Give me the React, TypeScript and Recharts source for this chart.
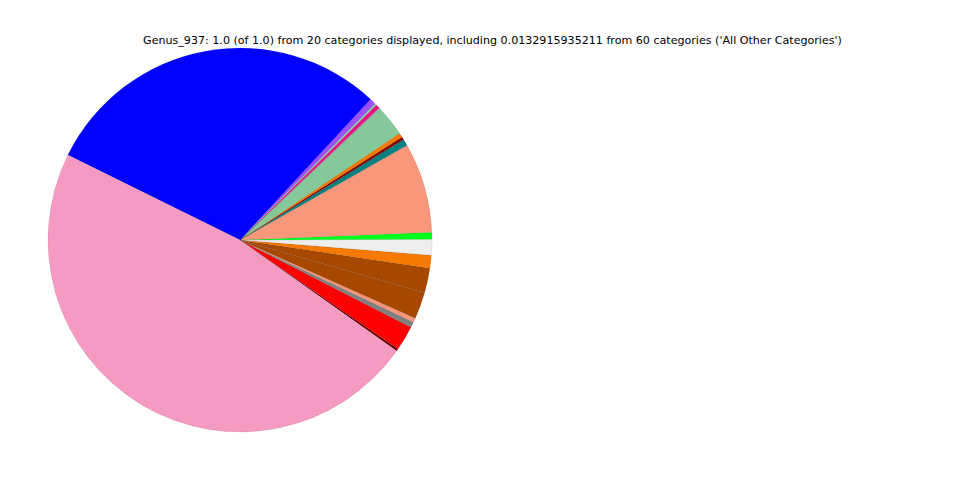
import { Cell, Pie, PieChart } from "recharts";

const TITLE =
  "Genus_937: 1.0 (of 1.0) from 20 categories displayed, including 0.0132915935211 from 60 categories ('All Other Categories')";

// slices in counter-clockwise order, starting just after the big pink wedge
const categories = [
  "Genus_a01",
  "Genus_a02",
  "Genus_a03",
  "Genus_a04",
  "Genus_a05",
  "Genus_a06",
  "Genus_a07",
  "All Other Categories",
  "Genus_a09",
  "Genus_a10",
  "Genus_a11",
  "Genus_a12",
  "Genus_a13",
  "Genus_a14",
  "Genus_a15",
  "Genus_a16",
  "Genus_a17",
  "Genus_a18",
  "Genus_a19",
  "Genus_a20",
];

const shares = [
  0.0019, 0.0211, 0.0047, 0.0036, 0.0225, 0.0208, 0.0108, 0.0133, 0.0058,
  0.0756, 0.0056, 0.0025, 0.0036, 0.0264, 0.0008, 0.0033, 0.0017, 0.005,
  0.2961, 0.475,
];

const colors = [
  "#6b0000",
  "#ff0000",
  "#808080",
  "#f9967a",
  "#a64800",
  "#a64800",
  "#f67a00",
  "#eeeeee",
  "#00ff1a",
  "#f9977a",
  "#00807f",
  "#800000",
  "#f67a00",
  "#85c99a",
  "#9a9a9a",
  "#ee0f88",
  "#85c99a",
  "#9b4dff",
  "#0000ff",
  "#f49ac3",
];

const data = categories.map((name, i) => ({ name, value: shares[i] }));

export default function App() {
  return (
    <div
      style={{
        position: "absolute",
        left: 0,
        top: 0,
        width: 960,
        height: 480,
        background: "#fff",
        fontFamily: "'DejaVu Sans', sans-serif",
      }}
    >
      <div
        style={{
          position: "absolute",
          top: 34,
          left: 0,
          width: 985,
          textAlign: "center",
          fontSize: 11.1,
          color: "#000",
          whiteSpace: "nowrap",
        }}
      >
        {TITLE}
      </div>
      <PieChart
        width={960}
        height={480}
        margin={{ top: 0, right: 0, bottom: 0, left: 0 }}
      >
        <Pie
          data={data}
          dataKey="value"
          nameKey="name"
          cx={240}
          cy={240}
          outerRadius={192}
          startAngle={-35.3}
          endAngle={324.7}
          stroke="rgba(0,0,0,0.15)"
          strokeWidth={0.5}
          isAnimationActive={false}
        >
          {data.map((d, i) => (
            <Cell key={d.name} fill={colors[i]} />
          ))}
        </Pie>
      </PieChart>
    </div>
  );
}
